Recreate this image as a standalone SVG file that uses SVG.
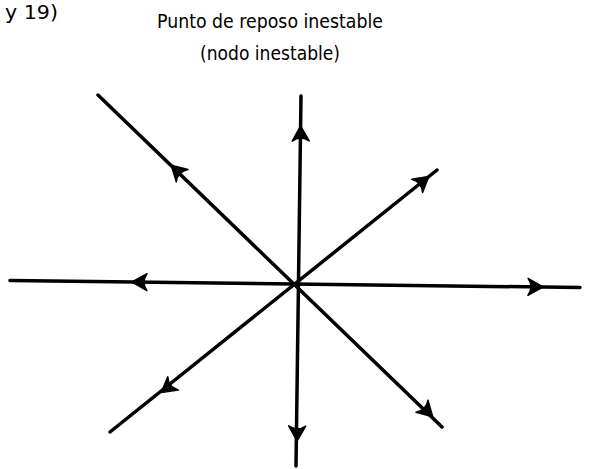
<svg xmlns="http://www.w3.org/2000/svg" width="592" height="469" viewBox="0 0 592 469">
<style>
.t{font-family:"DejaVu Sans","Liberation Sans",sans-serif;font-size:20px;fill:#000}
.ln{stroke:#000;stroke-width:3.5;fill:none;stroke-linecap:round}
</style>
<defs>
<path id="ah" d="M1 0 L-14 -8.5 Q-8 0 -14 8.5 Z" fill="#000" stroke="#000" stroke-width="1.5" stroke-linejoin="round"/>
</defs>
<rect width="592" height="469" fill="#fff"/>
<g id="labels">
<text class="t" x="5" y="19" textLength="53" lengthAdjust="spacingAndGlyphs">y 19)</text>
<text class="t" x="157" y="28" textLength="226" lengthAdjust="spacingAndGlyphs">Punto de reposo inestable</text>
<text class="t" x="200" y="60" textLength="140" lengthAdjust="spacingAndGlyphs">(nodo inestable)</text>
</g>
<g id="connectors">
<line class="ln" x1="98" y1="95" x2="442" y2="427"/>
<line class="ln" x1="110" y1="432" x2="437" y2="170"/>
<line class="ln" x1="301" y1="96" x2="296" y2="466"/>
<line class="ln" x1="10" y1="280.5" x2="580" y2="287.5"/>
<use href="#ah" transform="translate(172,166) rotate(-136.3)"/>
<use href="#ah" transform="translate(432,416) rotate(44.4)"/>
<use href="#ah" transform="translate(428,177) rotate(-39.4)"/>
<use href="#ah" transform="translate(162,392) rotate(141.8)"/>
<use href="#ah" transform="translate(300.5,127) rotate(-90.8)"/>
<use href="#ah" transform="translate(297,440) rotate(90.8)"/>
<use href="#ah" transform="translate(133,282) rotate(180.7)"/>
<use href="#ah" transform="translate(542,287) rotate(0.7)"/>
</g>
</svg>
